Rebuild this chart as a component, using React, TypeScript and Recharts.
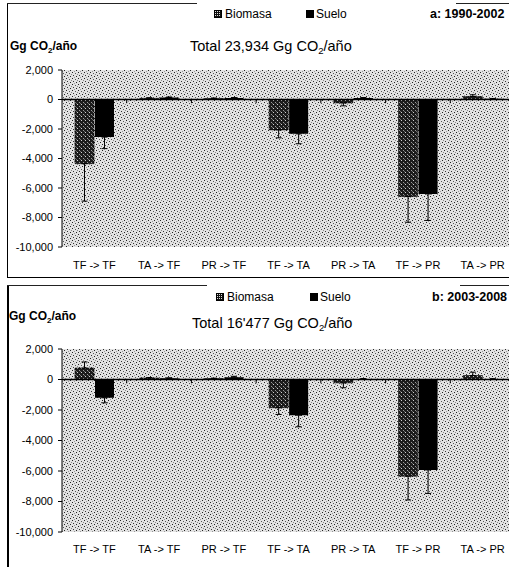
import React from "react";
import { BarChart, Bar, XAxis, YAxis, CartesianGrid, ReferenceLine, ErrorBar } from "recharts";

const categories = ["TF -> TF", "TA -> TF", "PR -> TF", "TF -> TA", "PR -> TA", "TF -> PR", "TA -> PR"];
const yTicks = [-10000, -8000, -6000, -4000, -2000, 0, 2000];

// Panel a: 1990-2002
const biomasaA = [-4350, 80, 70, -2060, -230, -6580, 200];
const biomasaErrA = [2540, 40, 30, 540, 200, 1740, 120];
const sueloA = [-2550, 130, 100, -2330, 100, -6400, 50];
const sueloErrA = [780, 40, 30, 670, 30, 1800, 20];

// Panel b: 2003-2008
const biomasaB = [750, 100, 60, -1850, -220, -6340, 260];
const biomasaErrB = [400, 30, 30, 440, 320, 1560, 220];
const sueloB = [-1200, 80, 150, -2340, 40, -5930, 30];
const sueloErrB = [330, 30, 60, 760, 20, 1540, 20];

const boundaries = [1, 2, 3, 4, 5, 6];

function awayFromZero(v: number, e: number) {
  return v < 0 ? [e, 0] : [0, e];
}

function buildRows(bio: number[], bioErr: number[], suelo: number[], sueloErr: number[]) {
  return categories.map((c, i) => ({
    cat: c,
    idx: i + 0.5,
    biomasa: bio[i],
    suelo: suelo[i],
    bioErr: awayFromZero(bio[i], bioErr[i]),
    sueloErr: awayFromZero(suelo[i], sueloErr[i]),
  }));
}

const FONT = "'Liberation Sans', Arial, sans-serif";

const XTick = (props: any) => {
  const { x, y, payload, dy } = props;
  return (
    <text x={x} y={y + dy} textAnchor="middle" dominantBaseline="central" fontSize={11} fontFamily={FONT} fill="#000">
      {payload.value}
    </text>
  );
};

function Panel(props: {
  top: number;
  plotTop: number;
  plotBottom: number;
  labelDy: number;
  rows: any[];
  tickLen: number;
}) {
  const { top, plotTop, plotBottom, labelDy, rows, tickLen } = props;
  const height = plotBottom - top + 35;
  return (
    <div style={{ position: "absolute", left: 0, top }}>
      <BarChart
        width={515}
        height={height}
        data={rows}
        margin={{ top: plotTop - top, right: 0, left: 0, bottom: 5 }}
        barSize={19}
        barGap={1}
      >
        <CartesianGrid fill="url(#bgStipple)" stroke="none" strokeOpacity={0} horizontal={false} vertical={false} />
        <XAxis
          dataKey="cat"
          axisLine={false}
          tickLine={false}
          tickSize={0}
          tickMargin={0}
          height={30}
          interval={0}
          tick={<XTick dy={labelDy} />}
        />
        <XAxis xAxisId="n" dataKey="idx" type="number" domain={[0, 7]} allowDataOverflow hide />
        <YAxis
          width={62}
          domain={[-10000, 2000]}
          ticks={yTicks}
          interval={0}
          allowDataOverflow
          axisLine={{ stroke: "#000", strokeWidth: 1 }}
          tickLine={{ stroke: "#000" }}
          tickSize={4}
          tickMargin={5}
          tick={{ fontSize: 11, fill: "#000", fontFamily: FONT }}
          tickFormatter={(v: number) => v.toLocaleString("en-US")}
        />
        <ReferenceLine y={0} stroke="#000" strokeWidth={1.6} />
        {boundaries.map((b) => (
          <ReferenceLine
            key={b}
            xAxisId="n"
            segment={[
              { x: b, y: 0 },
              { x: b, y: -tickLen },
            ]}
            stroke="#000"
            strokeWidth={1}
          />
        ))}
        <Bar dataKey="biomasa" fill="url(#bioStipple)" stroke="#000" strokeWidth={0.6} isAnimationActive={false}>
          <ErrorBar dataKey="bioErr" width={3} stroke="#000" strokeWidth={1} direction="y" />
        </Bar>
        <Bar dataKey="suelo" fill="#000" isAnimationActive={false}>
          <ErrorBar dataKey="sueloErr" width={3} stroke="#000" strokeWidth={1} direction="y" />
        </Bar>
      </BarChart>
    </div>
  );
}

const abs = (s: React.CSSProperties): React.CSSProperties => ({ position: "absolute", whiteSpace: "nowrap", fontFamily: FONT, color: "#000", ...s });

function LegendIcon(props: { kind: "bio" | "suelo"; left: number; top: number }) {
  return (
    <svg style={{ position: "absolute", left: props.left, top: props.top }} width={8} height={8}>
      <rect x={0.5} y={0.5} width={7} height={7} fill={props.kind === "bio" ? "url(#bioIcon)" : "#000"} stroke="#000" strokeWidth={1} />
    </svg>
  );
}

function Unit(props: { left: number; top: number }) {
  return (
    <div style={abs({ left: props.left, top: props.top, fontSize: 12, fontWeight: "bold", lineHeight: "14px" })}>
      Gg CO<span style={{ fontSize: 8, position: "relative", top: 3 }}>2</span>/año
    </div>
  );
}

function Title(props: { left: number; top: number; text: string }) {
  return (
    <div style={abs({ left: props.left, top: props.top, fontSize: 14.5, lineHeight: "17px" })}>
      {props.text} Gg CO<span style={{ fontSize: 9.5, position: "relative", top: 3 }}>2</span>/año
    </div>
  );
}

export default function App() {
  const rowsA = buildRows(biomasaA, biomasaErrA, sueloA, sueloErrA);
  const rowsB = buildRows(biomasaB, biomasaErrB, sueloB, sueloErrB);
  return (
    <div style={{ position: "absolute", left: 0, top: 0, width: 509, height: 567, overflow: "hidden", background: "#fff" }}>
      <svg width={0} height={0} style={{ position: "absolute" }}>
        <defs>
          <pattern id="bgStipple" width={6} height={6} patternUnits="userSpaceOnUse">
            <rect width={6} height={6} fill="#e2e2e2" />
            <rect x={0} y={0} width={1} height={1} fill="#222" />
            <rect x={3} y={1} width={1} height={1} fill="#555" />
            <rect x={1} y={3} width={1} height={1} fill="#333" />
            <rect x={4} y={4} width={1} height={1} fill="#222" />
            <rect x={5} y={2} width={1} height={1} fill="#888" />
            <rect x={2} y={5} width={1} height={1} fill="#999" />
          </pattern>
          <pattern id="bioStipple" width={4} height={4} patternUnits="userSpaceOnUse">
            <rect width={4} height={4} fill="#1c1c1c" />
            <rect x={1} y={0} width={1} height={1} fill="#cfcfcf" />
            <rect x={3} y={2} width={1} height={1} fill="#9a9a9a" />
            <rect x={0} y={3} width={1} height={1} fill="#6a6a6a" />
          </pattern>
          <pattern id="bioIcon" width={2} height={2} patternUnits="userSpaceOnUse">
            <rect width={2} height={2} fill="#111" />
            <rect x={1} y={1} width={1} height={1} fill="#ddd" />
          </pattern>
        </defs>
      </svg>

      {/* Panel a frame */}
      <div style={{ position: "absolute", left: 7, top: 3, width: 1, height: 275, background: "#000" }} />
      <div style={{ position: "absolute", left: 7, top: 277, width: 502, height: 1, background: "#000" }} />
      <div style={{ position: "absolute", left: 7, top: 3, width: 190, height: 1, background: "#222" }} />
      <div style={{ position: "absolute", left: 456, top: 3, width: 53, height: 1, background: "#222" }} />

      {/* Panel b frame */}
      <div style={{ position: "absolute", left: 7, top: 285, width: 1.5, height: 282, background: "#000" }} />
      <div style={{ position: "absolute", left: 7, top: 285, width: 200, height: 1, background: "#222" }} />
      <div style={{ position: "absolute", left: 460, top: 285, width: 49, height: 1, background: "#222" }} />

      <Panel top={0} plotTop={70} plotBottom={247} labelDy={18} rows={rowsA} tickLen={250} />
      <Panel top={280} plotTop={349} plotBottom={532} labelDy={17} rows={rowsB} tickLen={250} />

      {/* Panel a texts */}
      <LegendIcon kind="bio" left={214} top={10} />
      <div style={abs({ left: 225, top: 7, fontSize: 12, lineHeight: "14px" })}>Biomasa</div>
      <LegendIcon kind="suelo" left={306} top={10} />
      <div style={abs({ left: 316, top: 7, fontSize: 12, lineHeight: "14px" })}>Suelo</div>
      <div style={abs({ left: 430, top: 7, fontSize: 12.5, fontWeight: "bold", lineHeight: "15px" })}>a: 1990-2002</div>
      <Unit left={10} top={39} />
      <Title left={190} top={38} text="Total 23,934" />

      {/* Panel b texts */}
      <LegendIcon kind="bio" left={216} top={293} />
      <div style={abs({ left: 227, top: 290, fontSize: 12, lineHeight: "14px" })}>Biomasa</div>
      <LegendIcon kind="suelo" left={310} top={293} />
      <div style={abs({ left: 320, top: 290, fontSize: 12, lineHeight: "14px" })}>Suelo</div>
      <div style={abs({ left: 432, top: 290, fontSize: 12.5, fontWeight: "bold", lineHeight: "15px" })}>b: 2003-2008</div>
      <Unit left={9} top={309} />
      <Title left={192} top={315} text="Total 16'477" />
    </div>
  );
}
